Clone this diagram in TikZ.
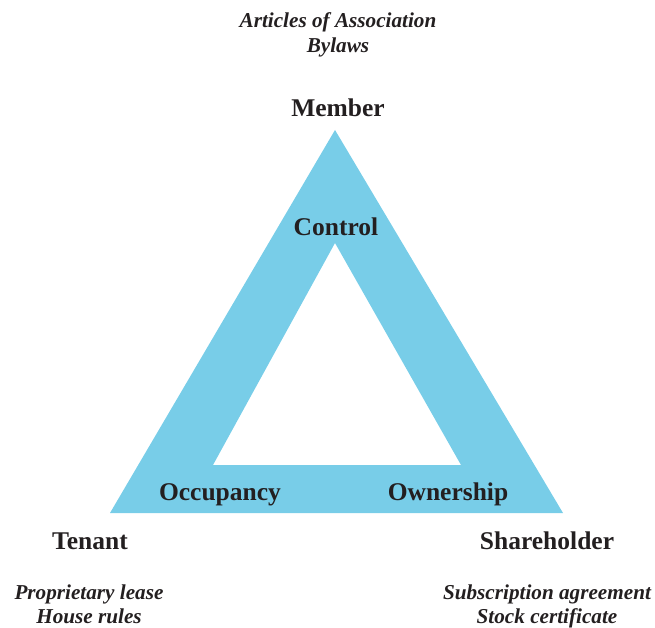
\documentclass[tikz,border=0pt]{standalone}
\usepackage{fontspec}
\setmainfont{Liberation Serif}
\definecolor{tri}{HTML}{78CDE8}
\definecolor{ink}{HTML}{231F20}
\begin{document}
\begin{tikzpicture}[x=1pt,y=-1pt,
  lbl/.style={text=ink,font=\fontsize{25.5}{28}\selectfont\bfseries,inner sep=0pt,anchor=base},
  doc/.style={text=ink,font=\fontsize{21.2}{24.5}\selectfont\bfseries\itshape,inner sep=0pt,align=center,anchor=base}]
\useasboundingbox (0,0) rectangle (655,628);
\fill[tri,even odd rule] (335,130) -- (110,513) -- (563,513) -- cycle
  (335,243) -- (213,465) -- (461,465) -- cycle;
\node[doc] (art1) at (338,28) {Articles of Association};
\node[doc] (art2) at (338,52.5) {Bylaws};
\node[lbl] (mem) at (338,117) {Member};
\node[lbl] (ctl) at (336,236) {Control};
\node[lbl] (occ) at (220,500) {Occupancy};
\node[lbl] (own) at (448,500) {Ownership};
\node[lbl] (ten) at (90,549) {Tenant};
\node[lbl] (sha) at (547,549) {Shareholder};
\node[doc] (pl1) at (89,599) {Proprietary lease};
\node[doc] (pl2) at (89,623) {House rules};
\node[doc] (sa1) at (547,599) {Subscription agreement};
\node[doc] (sa2) at (547,623) {Stock certificate};
\end{tikzpicture}
\end{document}
